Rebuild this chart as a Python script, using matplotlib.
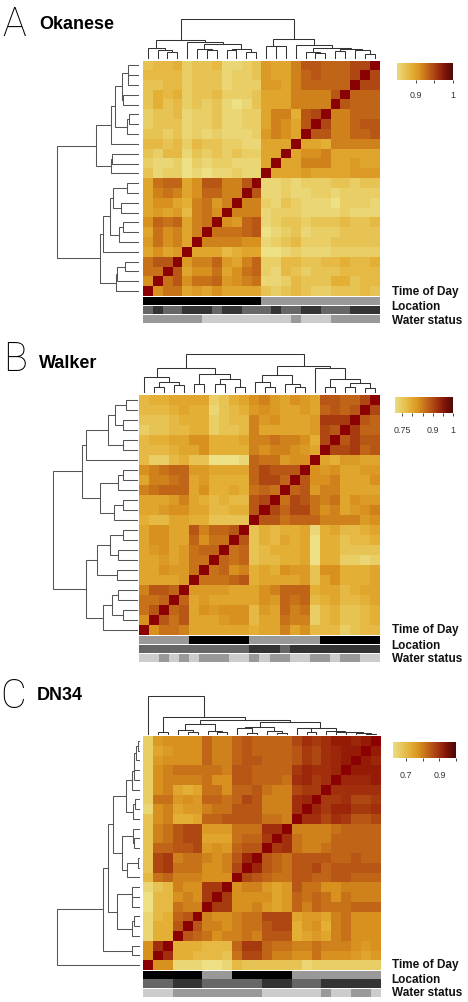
#!/usr/bin/env python3

import numpy as np
import matplotlib
matplotlib.use("Agg")
import matplotlib.pyplot as plt
from matplotlib.cm import ScalarMappable
from matplotlib.colors import LinearSegmentedColormap, ListedColormap, Normalize

WIDTH = 468
HEIGHT = 1002
N = 24
LEVELS = 20

# similarity, on a 0-20 level scale between the ends of each
# colour key; lower triangle only, first list is second row from the bottom
okanese_levels = [
    [8],
    [10, 10],
    [10, 12, 12],
    [6, 8, 6, 7],
    [7, 10, 8, 9, 6],
    [6, 10, 8, 9, 6, 9],
    [8, 11, 10, 11, 6, 9, 10],
    [6, 7, 6, 7, 4, 9, 10, 8],
    [6, 8, 8, 6, 5, 9, 10, 7, 9],
    [6, 9, 10, 9, 6, 8, 11, 11, 9, 9],
    [6, 10, 11, 11, 6, 8, 12, 12, 9, 9, 12],
    [3, 1, 2, 2, 0, 1, 0, 1, 1, 2, 1, 1],
    [2, 1, 1, 2, 0, 2, 1, 2, 2, 1, 1, 1, 6],
    [3, 2, 4, 4, 1, 3, 2, 3, 2, 3, 2, 2, 6, 6],
    [4, 4, 3, 4, 2, 4, 3, 3, 2, 2, 1, 1, 6, 6, 6],
    [3, 3, 2, 3, 1, 2, 1, 2, 1, 1, 1, 2, 7, 9, 8, 6],
    [2, 3, 3, 3, 1, 2, 2, 3, 1, 1, 2, 2, 6, 9, 8, 6, 12],
    [2, 3, 3, 4, 1, 2, 2, 3, 1, 1, 2, 2, 6, 9, 9, 5, 12, 13],
    [3, 5, 3, 4, 2, 3, 2, 3, 1, 0, 1, 3, 6, 6, 6, 9, 9, 9, 9],
    [3, 5, 4, 5, 2, 3, 3, 4, 2, 2, 2, 3, 6, 6, 6, 9, 9, 9, 9, 12],
    [3, 3, 4, 4, 2, 3, 3, 3, 1, 2, 2, 2, 7, 7, 6, 9, 11, 11, 11, 11, 11],
    [4, 4, 4, 4, 2, 3, 3, 3, 1, 2, 2, 3, 7, 6, 6, 9, 11, 12, 11, 11, 11, 13],
    [3, 4, 4, 5, 2, 3, 3, 4, 1, 1, 2, 3, 7, 6, 6, 9, 12, 12, 11, 11, 11, 13, 13],
]
walker_levels = [
    [8],
    [10, 12],
    [10, 10, 11],
    [9, 12, 12, 11],
    [6, 6, 6, 6, 7],
    [6, 6, 8, 7, 7, 10],
    [6, 6, 7, 6, 7, 10, 10],
    [6, 7, 8, 6, 7, 10, 11, 11],
    [6, 8, 8, 6, 6, 11, 8, 10, 10],
    [6, 8, 8, 6, 6, 12, 9, 11, 11, 12],
    [5, 4, 4, 6, 6, 5, 5, 3, 3, 3, 3],
    [6, 6, 7, 8, 8, 6, 6, 4, 4, 5, 5, 12],
    [6, 6, 6, 7, 9, 6, 5, 4, 5, 4, 4, 12, 13],
    [9, 10, 11, 11, 11, 6, 8, 5, 5, 6, 5, 10, 11, 10],
    [6, 9, 9, 10, 11, 6, 7, 5, 5, 5, 5, 11, 13, 13, 11],
    [8, 9, 10, 11, 11, 7, 7, 6, 6, 6, 6, 11, 13, 12, 12, 12],
    [4, 2, 2, 4, 5, 3, 3, 0, 0, 0, 1, 11, 10, 10, 7, 8, 8],
    [4, 4, 4, 5, 6, 6, 8, 5, 5, 5, 5, 9, 8, 9, 9, 8, 7, 6],
    [4, 5, 5, 6, 6, 8, 8, 5, 5, 5, 6, 9, 9, 10, 9, 9, 8, 5, 13],
    [2, 3, 3, 4, 4, 5, 5, 2, 3, 3, 4, 9, 6, 6, 6, 6, 6, 7, 13, 12],
    [3, 3, 3, 4, 5, 5, 5, 2, 3, 4, 4, 9, 7, 8, 6, 6, 6, 7, 14, 14, 14],
    [4, 4, 4, 5, 6, 5, 5, 1, 3, 4, 5, 7, 8, 7, 6, 6, 7, 6, 11, 12, 11, 12],
    [4, 5, 5, 6, 6, 6, 6, 2, 3, 5, 6, 8, 9, 7, 6, 8, 7, 6, 12, 12, 11, 11, 13],
]
dn34_levels = [
    [8],
    [8, 15],
    [1, 5, 5],
    [1, 5, 5, 12],
    [1, 4, 5, 11, 12],
    [0, 4, 4, 10, 9, 9],
    [0, 4, 4, 8, 9, 8, 14],
    [1, 3, 4, 9, 8, 8, 14, 14],
    [4, 10, 11, 9, 9, 9, 8, 8, 8],
    [3, 13, 14, 10, 10, 10, 8, 8, 9, 13],
    [3, 13, 14, 9, 10, 10, 9, 8, 9, 12, 16],
    [3, 11, 11, 12, 12, 13, 7, 8, 7, 11, 12, 12],
    [3, 9, 10, 12, 13, 13, 6, 6, 6, 10, 11, 11, 14],
    [3, 9, 10, 12, 13, 13, 7, 7, 7, 10, 10, 10, 15, 15],
    [3, 8, 9, 5, 5, 6, 11, 11, 12, 12, 12, 12, 10, 10, 9],
    [1, 8, 9, 6, 7, 7, 9, 10, 10, 12, 12, 12, 9, 9, 9, 15],
    [2, 10, 10, 7, 8, 7, 11, 11, 10, 11, 13, 12, 9, 9, 9, 15, 16],
    [2, 8, 9, 6, 5, 6, 10, 10, 8, 11, 11, 12, 10, 9, 9, 13, 14, 14],
    [2, 8, 9, 9, 9, 9, 10, 8, 8, 12, 12, 11, 11, 11, 10, 15, 16, 14, 15],
    [2, 8, 9, 10, 10, 10, 10, 10, 9, 12, 12, 11, 11, 11, 11, 14, 16, 15, 15, 16],
    [2, 7, 8, 8, 8, 8, 11, 9, 9, 11, 12, 12, 11, 11, 11, 12, 14, 13, 15, 16, 17],
    [2, 6, 7, 8, 8, 8, 11, 9, 9, 11, 12, 11, 11, 11, 11, 12, 14, 13, 15, 16, 17, 17],
    [2, 7, 8, 8, 8, 8, 11, 9, 9, 11, 12, 11, 11, 11, 11, 13, 15, 14, 15, 17, 17, 16, 17],
]

# dendrograms: (height, left, right), ints are leaves
okanese_col_tree = (120,
    (58, (35, 0, (28, 1, (22, 2, 3))),
     (53, 4, (45, (31, 5, (28, 6, 7)), (31, (28, 8, 9), (21, 10, 11))))),
    (61, (41, 12, (41, 13, 14)),
     (43, 15, (35, (22, 16, (18, 17, 18)), (30, (25, 19, 20), (27, 21, (17, 22, 23)))))))
okanese_row_tree = (246,
    (118, (71, 0, (68, 1, (43, 2, 3))),
     (108, 4, (88, (60, 5, (50, 6, 7)), (78, (56, 8, 9), (38, 10, 11))))),
    (130, (86, 12, (83, 13, 14)),
     (85, 15, (73, (38, 16, (30, 17, 18)), (53, (50, 19, 20), (35, (33, 21, 22), 23))))))
walker_col_tree = (118,
    (75, (50, 0, (35, (20, 1, 2), (25, 3, 4))),
     (57, (28, 5, 6), (42, (28, 7, 8), (20, 9, 10)))),
    (82, (55, (33, 11, (20, 12, 13)), (27, 14, (20, 15, 16))),
     (75, 17, (43, (20, 18, 19), (32, (20, 20, 21), (15, 22, 23))))))
walker_row_tree = (253,
    (155, (105, 0, (76, (43, 1, 2), (58, 3, 4))),
     (121, (63, 5, 6), (83, (58, 7, 8), (43, 9, 10)))),
    (168, (113, (70, 11, (45, 12, 13)), (58, 14, (43, 15, 16))),
     (155, 17, (90, (43, 18, 19), (68, (43, 20, 21), (35, 22, 23))))))
dn34_col_tree = (117, 0,
    (53, (10, 1, 2),
     (45, (32, (15, 3, (10, 4, 5)), (13, 6, (8, 7, 8))),
      (38, (25, (20, 9, (5, 10, 11)), (12, 12, (7, 13, 14))),
       (22, (20, 15, (10, 16, 17)),
        (13, 18, (10, 19, (8, 20, (6, 21, (3, 22, 23))))))))))
dn34_row_tree = (248, 0,
    (112, (23, 1, 2),
     (95, (68, (23, 3, (18, 4, 5)), (25, (23, 6, 7), 8)),
      (80, (53, (40, 9, (7, 10, 11)), (20, (18, 12, 13), 14)),
       (42, (22, 15, (15, 16, 17)),
        (25, 18, (17, 19, (17, 20, (12, 21, (7, 22, 23))))))))))

# side bars as (grey code, cells); 0 black, 1-4 lighter greys
okanese_time = [(0, 12), (3, 12)]
okanese_location = [(2, 1), (1, 1), (2, 2), (1, 3), (2, 1), (1, 2), (2, 3), (1, 1),
                    (2, 2), (1, 2), (2, 3), (1, 3)]
okanese_water = [(3, 6), (4, 9), (3, 1), (4, 3), (3, 5)]
walker_time = [(3, 5), (0, 6), (3, 7), (0, 6)]
walker_location = [(2, 11), (1, 3), (2, 1), (1, 9)]
walker_water = [(4, 2), (3, 1), (4, 1), (3, 1), (4, 1), (3, 3), (4, 2), (3, 1), (4, 1),
                (3, 2), (4, 2), (3, 2), (4, 1), (3, 2), (4, 2)]
dn34_time = [(0, 6), (3, 3), (0, 6), (3, 9)]
dn34_location = [(2, 3), (1, 3), (2, 6), (1, 3), (2, 3), (1, 6)]
dn34_water = [(4, 3), (3, 9), (4, 6), (3, 1), (4, 2), (3, 2), (4, 1)]

greys = ["#000000", "#333333", "#666666", "#999999", "#cccccc"]
side_labels = ["Time of Day", "Location", "Water status"]

heat_colors = [(0.0, "#eee084"), (0.25, "#e3b035"), (0.4, "#d8901e"), (0.55, "#c06418"),
               (0.7, "#a83a10"), (0.85, "#961c08"), (1.0, "#8b0000")]
key_colors = [(0.0, "#ebdc80"), (0.25, "#e3b23a"), (0.4, "#d9931f"), (0.55, "#c0661a"),
              (0.7, "#a83a10"), (0.85, "#801408"), (1.0, "#4a0808")]
heat_cmap = LinearSegmentedColormap.from_list("heat", heat_colors)
key_cmap = LinearSegmentedColormap.from_list("key", key_colors)
grey_cmap = ListedColormap(greys)

panels = [
    dict(letter="A", letter_xy=(2, 36), name="Okanese", name_xy=(39, 24.5),
         levels=okanese_levels, lo=0.85, hi=1.0,
         col_tree=okanese_col_tree, row_tree=okanese_row_tree,
         bars=[okanese_time, okanese_location, okanese_water],
         heat=(142.7, 379.5, 60.5, 296),
         bar_ys=[(296.7, 305), (305.7, 314.3), (315, 323.3)],
         top_base=59.3, left_base=139.3, label_ys=[292, 307, 320.7],
         key=(396.7, 453.3, 62.7, 80), key_label_y=96,
         ticks=[0.9, 0.95, 1.0], tick_labels=["0.9", "", "1"]),
    dict(letter="B", letter_xy=(3, 371), name="Walker", name_xy=(39, 363.5),
         levels=walker_levels, lo=0.716, hi=1.0,
         col_tree=walker_col_tree, row_tree=walker_row_tree,
         bars=[walker_time, walker_location, walker_water],
         heat=(139.3, 380, 395, 635),
         bar_ys=[(636, 644.3), (645, 653.3), (654.3, 662.3)],
         top_base=393.3, left_base=137.7, label_ys=[630.3, 645.7, 659],
         key=(395, 453.3, 396.7, 413.3), key_label_y=430.7,
         ticks=[0.75, 0.8, 0.85, 0.9, 0.95, 1.0], tick_labels=["0.75", "", "", "0.9", "", "1"]),
    dict(letter="C", letter_xy=(0, 707.5), name="DN34", name_xy=(37, 695),
         levels=dn34_levels, lo=0.624, hi=1.0,
         col_tree=dn34_col_tree, row_tree=dn34_row_tree,
         bars=[dn34_time, dn34_location, dn34_water],
         heat=(143.3, 380.7, 736, 970),
         bar_ys=[(970.7, 979.3), (979.3, 988.3), (988.7, 997.3)],
         top_base=735, left_base=140, label_ys=[964.7, 980, 993.3],
         key=(393.3, 456, 741.7, 757.7), key_label_y=775.7,
         ticks=[0.7, 0.8, 0.9, 1.0], tick_labels=["0.7", "", "0.9", ""]),
]


def pixel_axes(fig, x0, x1, y0, y1):
    # x and y given in image pixels, y counted from the top
    ax = fig.add_axes([x0 / WIDTH, 1 - y1 / HEIGHT, (x1 - x0) / WIDTH, (y1 - y0) / HEIGHT])
    ax.set_axis_off()
    return ax


def draw_text(fig, x, y, text, **kwargs):
    fig.text(x / WIDTH, 1 - y / HEIGHT, text, **kwargs)


def symmetric_matrix(levels, lo, hi):
    m = np.full((N, N), float(LEVELS))
    for i, row in enumerate(levels, start=1):
        m[i, :i] = row
        m[:i, i] = row
    return lo + m / LEVELS * (hi - lo)


def draw_tree(ax, node, vertical, color):
    if isinstance(node, int):
        return node + 0.5, 0
    height, left, right = node
    p0, h0 = draw_tree(ax, left, vertical, color)
    p1, h1 = draw_tree(ax, right, vertical, color)
    pos = [p0, p0, p1, p1]
    hts = [h0, height, height, h1]
    if vertical:
        ax.plot(pos, hts, color=color, lw=0.75, solid_joinstyle="miter")
    else:
        ax.plot(hts, pos, color=color, lw=0.75, solid_joinstyle="miter")
    return (p0 + p1) / 2, height


def draw_panel(fig, p):
    x0, x1, y0, y1 = p["heat"]
    ax = pixel_axes(fig, x0, x1, y0, y1)
    ax.imshow(symmetric_matrix(p["levels"], p["lo"], p["hi"]), origin="lower", aspect="auto",
              cmap=heat_cmap, vmin=p["lo"], vmax=p["hi"], interpolation="nearest")

    # dendrogram heights are in thirds of an image pixel
    ax_top = pixel_axes(fig, x0, x1, p["top_base"] - 130 / 3, p["top_base"])
    ax_top.set_xlim(0, N)
    ax_top.set_ylim(0, 130)
    draw_tree(ax_top, p["col_tree"], True, "#333333")

    base = p["left_base"]
    ax_left = pixel_axes(fig, base - 260 / 3, base, y0, y1)
    ax_left.set_xlim(260, 0)
    ax_left.set_ylim(0, N)
    draw_tree(ax_left, p["row_tree"], False, "#555555")

    for runs, (by0, by1), label, ly in zip(p["bars"], p["bar_ys"], side_labels, p["label_ys"]):
        codes = np.repeat([r[0] for r in runs], [r[1] for r in runs])
        ax_bar = pixel_axes(fig, x0, x1, by0, by1)
        ax_bar.imshow(codes[np.newaxis, :], aspect="auto", cmap=grey_cmap, vmin=0, vmax=4,
                      interpolation="nearest")
        draw_text(fig, 391.5, ly, label, fontsize=8.5, fontweight="bold", va="center", color="#111111")

    kx0, kx1, ky0, ky1 = p["key"]
    cax = fig.add_axes([kx0 / WIDTH, 1 - ky1 / HEIGHT, (kx1 - kx0) / WIDTH, (ky1 - ky0) / HEIGHT])
    sm = ScalarMappable(norm=Normalize(p["lo"], p["hi"]), cmap=key_cmap)
    cb = fig.colorbar(sm, cax=cax, orientation="horizontal")
    cb.outline.set_visible(False)
    cb.set_ticks(p["ticks"])
    cb.set_ticklabels([])
    cax.tick_params(axis="x", length=2.4, width=0.6, color="#222222", direction="out")
    for tick, label in zip(p["ticks"], p["tick_labels"]):
        frac = (tick - p["lo"]) / (p["hi"] - p["lo"])
        draw_text(fig, kx0 + frac * (kx1 - kx0), p["key_label_y"], label, fontsize=6.4,
                  ha="center", va="center", color="#333333")

    draw_text(fig, p["letter_xy"][0], p["letter_xy"][1], p["letter"], fontsize=28.5, color="black",
              va="baseline", family="Roboto", fontweight="light")
    draw_text(fig, p["name_xy"][0], p["name_xy"][1], p["name"], fontsize=13, fontweight="bold",
              va="center", color="black")


def main():
    plt.rcParams["font.family"] = ["Liberation Sans", "DejaVu Sans"]
    fig = plt.figure(figsize=(WIDTH / 100, HEIGHT / 100), dpi=100, facecolor="white")
    for p in panels:
        draw_panel(fig, p)
    fig.savefig("out.png", dpi=100)


if __name__ == "__main__":
    main()
